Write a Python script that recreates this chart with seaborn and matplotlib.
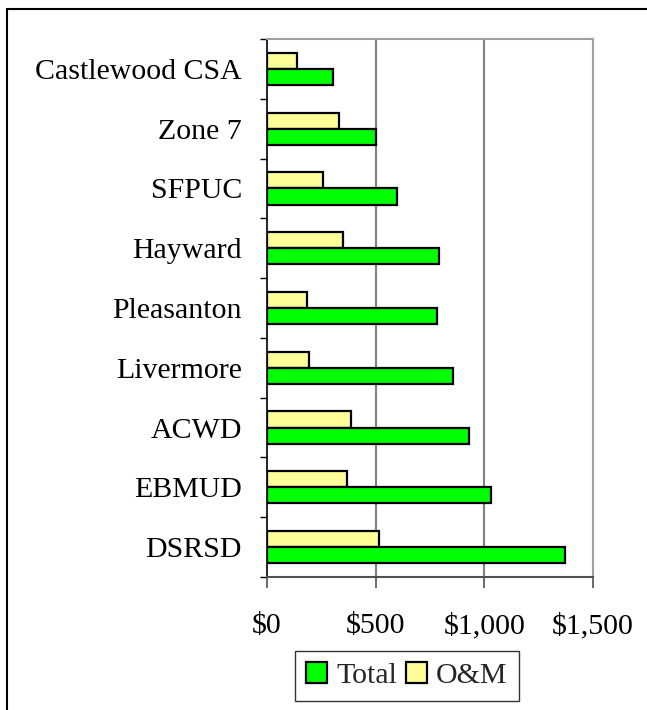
import numpy as np
import pandas as pd
import seaborn as sns
import matplotlib.pyplot as plt
from matplotlib.lines import Line2D
from matplotlib.ticker import FuncFormatter, FixedLocator

# values ($)
agencies = ['Castlewood CSA', 'Zone 7', 'SFPUC', 'Hayward', 'Pleasanton',
            'Livermore', 'ACWD', 'EBMUD', 'DSRSD']
total = [304, 500, 598, 791, 782, 854, 928, 1029, 1369]
om = [138, 332, 257, 350, 184, 194, 386, 369, 515]
x_ticks = [0, 500, 1000, 1500]

df = pd.DataFrame({
    'Agency': agencies * 2,
    'Cost': om + total,
    'Type': ['O&M'] * len(agencies) + ['Total'] * len(agencies),
})

sns.set_theme(style='white')
plt.rcParams['font.family'] = ['Liberation Serif', 'DejaVu Serif']
fs = 21.5

fig = plt.figure(figsize=(6.47, 7.10), dpi=100)
ax = fig.add_axes([0.4127, 0.1873, 0.5039, 0.7578])

colors = {'O&M': '#FFFF99', 'Total': '#00FF00'}
sns.barplot(data=df, y='Agency', x='Cost', hue='Type', hue_order=['O&M', 'Total'],
            order=agencies, palette=colors, orient='h', width=0.54,
            edgecolor='black', linewidth=1.6, saturation=1, ax=ax)

ax.set_xlim(0, 1500)
ax.set_ylim(len(agencies) - 0.5, -0.5)
ax.xaxis.set_major_locator(FixedLocator(x_ticks))
ax.xaxis.set_major_formatter(FuncFormatter(lambda v, p: f'${v:,.0f}'))
ax.set_xlabel('')
ax.set_ylabel('')

# vertical gridlines
for v in x_ticks[1:-1]:
    ax.axvline(v, color='#808080', lw=1.5, zorder=0)

for side in ['top', 'right']:
    ax.spines[side].set_color('#a0a0a0')
    ax.spines[side].set_linewidth(1.5)
ax.spines['left'].set_color('black')
ax.spines['left'].set_linewidth(1.2)
ax.spines['bottom'].set_color('#505050')
ax.spines['bottom'].set_linewidth(1.5)

# category separators as ticks on the y axis
ax.yaxis.set_minor_locator(FixedLocator(np.arange(-0.5, len(agencies), 1)))
ax.tick_params(axis='y', which='major', length=0, pad=18, labelsize=fs, colors='black')
ax.tick_params(axis='y', which='minor', left=True, length=5, width=1.0, color='black', direction='out')
ax.tick_params(axis='x', which='major', bottom=True, length=8, width=1.2, color='#505050',
               direction='out', pad=18, labelsize=fs, labelcolor='black')

# legend: Total first, then O&M
handles, labels = ax.get_legend_handles_labels()
ax.get_legend().remove()
idx = [labels.index('Total'), labels.index('O&M')]
fig.legend([handles[i] for i in idx], [labels[i] for i in idx], loc='center',
           bbox_to_anchor=(0.629, 0.048), ncol=2, fontsize=fs, frameon=True,
           fancybox=False, edgecolor='black', handlelength=0.7, handleheight=0.7,
           handletextpad=0.3, columnspacing=0.3, borderpad=0.4, borderaxespad=0)
leg = fig.legends[0]
leg.get_frame().set_linewidth(1.0)

# outer frame (left and top edges)
fig.add_artist(Line2D([7 / 647, 7 / 647], [0, 1 - 9 / 710], color='black', lw=1.5))
fig.add_artist(Line2D([7 / 647, 1], [1 - 9 / 710, 1 - 9 / 710], color='black', lw=1.5))

fig.savefig('out.png', dpi=100)
